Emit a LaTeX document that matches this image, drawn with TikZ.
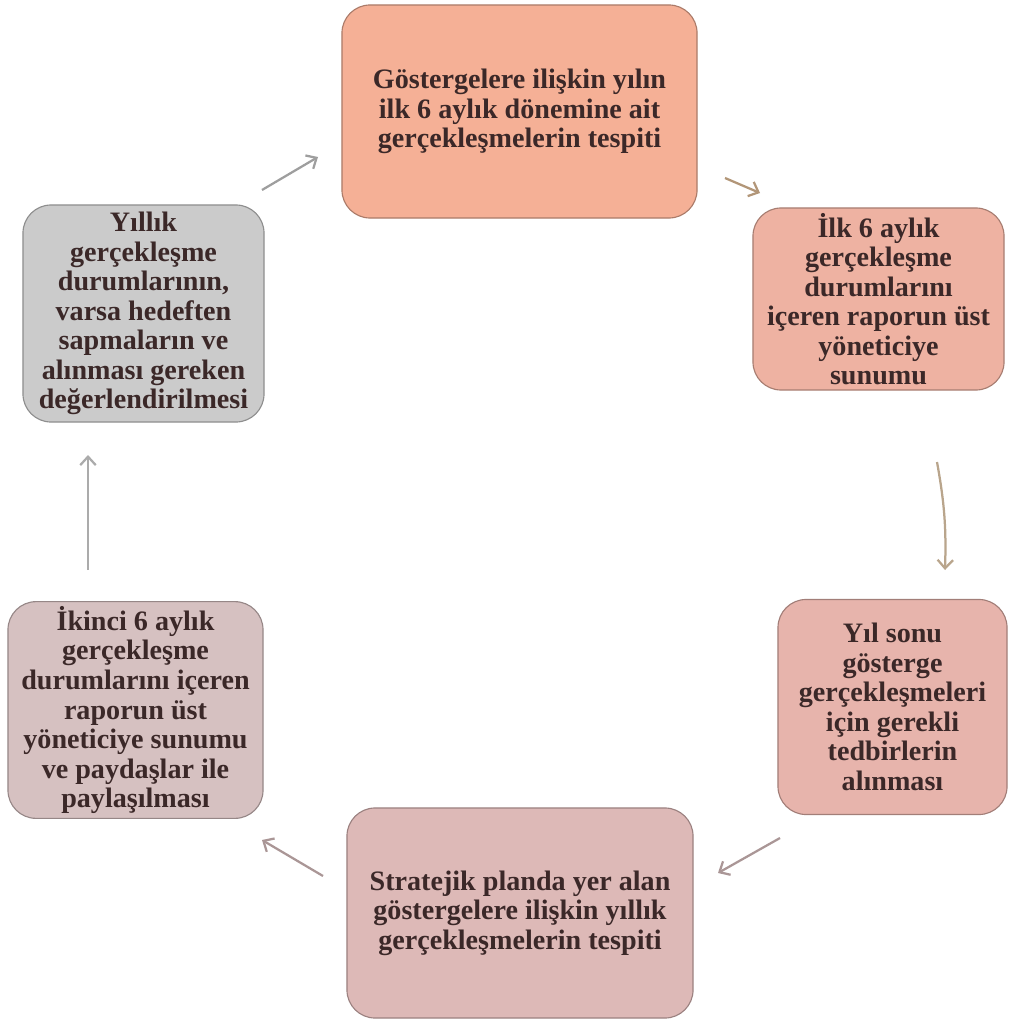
\documentclass[tikz,border=0pt]{standalone}
\usepackage{fontspec}
\setmainfont{Liberation Serif}
\usepackage{xcolor}
\usepackage{tikz}
\usetikzlibrary{arrows.meta,positioning}
\definecolor{Salmon}{HTML}{F5B096}
\definecolor{PeachRose}{HTML}{EEB2A2}
\definecolor{DustyRose}{HTML}{E7B4AC}
\definecolor{PaleMauve}{HTML}{DDB9B7}
\definecolor{GreyMauve}{HTML}{D6C1C1}
\definecolor{SoftGrey}{HTML}{CBCBCB}
\definecolor{InkBrown}{HTML}{3B2828}
\definecolor{Tan}{RGB}{178,150,120}
\definecolor{LightTan}{RGB}{185,165,140}
\definecolor{Mauve}{RGB}{170,150,150}

\begin{document}
\begin{tikzpicture} [x=0.025cm, y=-0.025cm, >={Straight Barb[length=6pt,width=11pt]},
	   every node/.style={font=\bfseries\fontsize{20}{21}\selectfont, text=InkBrown},
	   stage/.style = {rectangle, rounded corners=20pt, line width=0.8pt,
	                   draw=#1!70!black, fill=#1, align=center},
	   flow/.style = {->, line width=1.6pt, draw=#1}]
	\useasboundingbox (0,0) rectangle (1009,1024);

	%% Stages of the cycle
	\node [stage=Salmon, minimum width=8.875cm, minimum height=5.325cm] (half) at (519.5,111.5)
	      {Göstergelere ilişkin yılın\\ilk 6 aylık dönemine ait\\gerçekleşmelerin tespiti};
	\node [stage=PeachRose, minimum width=6.275cm, minimum height=4.55cm] (report1) at (878.5,299)
	      {İlk 6 aylık\\gerçekleşme\\durumlarını\\içeren raporun üst\\yöneticiye\\sunumu};
	\node [stage=DustyRose, minimum width=5.725cm, minimum height=5.375cm] (measures) at (892.5,707)
	      {Yıl sonu\\gösterge\\gerçekleşmeleri\\için gerekli\\tedbirlerin\\alınması};
	\node [stage=PaleMauve, minimum width=8.65cm, minimum height=5.25cm] (annual) at (520,913)
	      {Stratejik planda yer alan\\göstergelere ilişkin yıllık\\gerçekleşmelerin tespiti};
	\node [stage=GreyMauve, minimum width=6.375cm, minimum height=5.375cm] (report2) at (135.5,710)
	      {İkinci 6 aylık\\gerçekleşme\\durumlarını içeren\\raporun üst\\yöneticiye sunumu\\ve paydaşlar ile\\paylaşılması};
	\node [stage=SoftGrey, minimum width=6.025cm, minimum height=5.425cm] (review) at (143.5,313.5)
	      {Yıllık\\gerçekleşme\\durumlarının,\\varsa hedeften\\sapmaların ve\\alınması gereken\\değerlendirilmesi};

	%% Arrow ends
	\coordinate (a1s) at (262,190);  \coordinate (a1e) at (318,157);
	\coordinate (a2s) at (725,178);  \coordinate (a2e) at (760,193);
	\coordinate (a3s) at (937,462);  \coordinate (a3e) at (945,570);
	\coordinate (a4s) at (780,838);  \coordinate (a4e) at (718,873);
	\coordinate (a5s) at (323,876);  \coordinate (a5e) at (262,840);
	\coordinate (a6s) at (88,570);   \coordinate (a6e) at (88,455);

	%% Paths
	\draw [flow=black!38] (a1s) -- (a1e);
	\draw [flow=Tan] (a2s) -- (a2e);
	\draw [flow=LightTan] (a3s) to[bend left=6] (a3e);
	\draw [flow=Mauve] (a4s) -- (a4e);
	\draw [flow=Mauve] (a5s) -- (a5e);
	\draw [flow=black!33] (a6s) -- (a6e);
\end{tikzpicture}
\end{document}
